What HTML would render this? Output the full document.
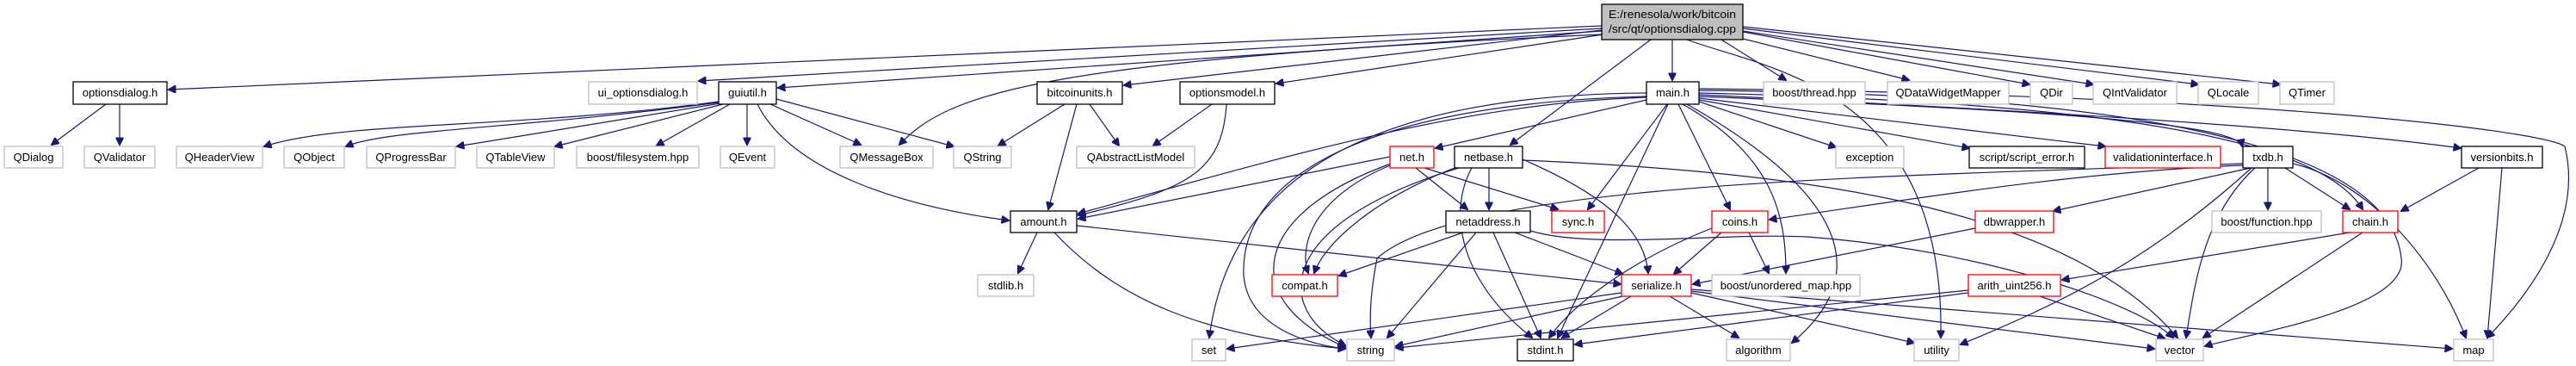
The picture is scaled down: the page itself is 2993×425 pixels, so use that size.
<!DOCTYPE html>
<html><head><meta charset="utf-8"><style>
html,body{margin:0;padding:0;background:#fff;}
svg{display:block;}
text{font-family:"Liberation Sans",sans-serif;font-size:13px;fill:#000;}
.g{fill:#fff;stroke:#bfbfbf;stroke-width:1.3}
.b{fill:#fff;stroke:#000;stroke-width:1.3}
.r{fill:#fff;stroke:#ff0000;stroke-width:1.3}
path{fill:none;stroke:#191970;stroke-width:1.2}
</style></head><body>
<svg width="2993" height="425" viewBox="0 0 2993 425" xmlns="http://www.w3.org/2000/svg">
<defs><marker id="a" viewBox="0 0 10 10" refX="9" refY="5" markerWidth="10" markerHeight="9" markerUnits="userSpaceOnUse" orient="auto"><path d="M0,0 L10,5 L0,10 z" style="fill:#191970;stroke:#191970"/></marker></defs>
<g marker-end="url(#a)">
<path d="M1861,30 L196,104"/>
<path d="M1861,33 L812,94"/>
<path d="M1861,36 L904,102"/>
<path d="M1861,40 C1200,70 1100,110 1045,168"/>
<path d="M1861,35 L1306,99"/>
<path d="M1863,40 L1483,97"/>
<path d="M1943,46 L1943,93"/>
<path d="M1918,46 L1755,168"/>
<path d="M2000,46 L2075,93"/>
<path d="M2025,45 L2218,93"/>
<path d="M2025,37 L2358,98"/>
<path d="M2025,36 L2432,98"/>
<path d="M2025,33 L2554,98"/>
<path d="M2025,31 L2649,98"/>
<path d="M1960,46 C2050,80 2260,100 2255,392"/>
<path d="M123,121 L60,168"/>
<path d="M139,121 L139,168"/>
<path d="M835,118 C600,150 400,140 307,170"/>
<path d="M835,119 C600,150 450,150 402,170"/>
<path d="M837,120 L531,170"/>
<path d="M840,121 L645,170"/>
<path d="M848,121 L763,169"/>
<path d="M868,121 L868,168"/>
<path d="M895,121 L1000,168"/>
<path d="M902,115 L1108,170"/>
<path d="M880,121 C920,200 1050,240 1172,256"/>
<path d="M1237,121 L1160,169"/>
<path d="M1266,121 L1300,169"/>
<path d="M1251,121 L1218,243"/>
<path d="M1408,121 L1340,169"/>
<path d="M1425,121 C1420,200 1380,220 1253,250"/>
<path d="M1913,113 C1700,120 1500,180 1253,248"/>
<path d="M1913,116 L1668,172"/>
<path d="M1913,108 C1600,110 1430,200 1405,392"/>
<path d="M1913,112 C1600,120 1440,200 1445,320 C1450,380 1520,400 1563,405"/>
<path d="M1937,121 L1845,243"/>
<path d="M1938,121 L1810,392"/>
<path d="M1950,121 L2010,243"/>
<path d="M1955,121 C2060,180 2075,250 2075,317"/>
<path d="M1960,121 C2100,200 2200,300 2082,398"/>
<path d="M1974,118 L2133,171"/>
<path d="M1974,116 L2288,172"/>
<path d="M1974,114 L2446,170"/>
<path d="M1974,112 C2300,125 2600,140 2605,170"/>
<path d="M1974,110 C2400,130 2700,150 2859,172"/>
<path d="M1974,108 C2500,120 2700,170 2745,243"/>
<path d="M1974,105 C2600,110 2780,200 2790,300 C2800,360 2600,390 2562,402"/>
<path d="M1974,103 C2600,110 2950,150 2980,170 C3000,250 2950,330 2890,392"/>
<path d="M1615,182 L1253,254"/>
<path d="M1620,190 C1520,230 1510,290 1520,317"/>
<path d="M1655,195 L1810,243"/>
<path d="M1645,195 L1705,243"/>
<path d="M1616,190 C1450,250 1440,350 1563,403"/>
<path d="M1690,195 C1600,230 1540,280 1527,317"/>
<path d="M1730,195 L1730,243"/>
<path d="M1769,185 C1850,220 1910,260 1915,317"/>
<path d="M1695,195 C1480,260 1480,360 1563,401"/>
<path d="M1710,195 C1680,250 1700,330 1780,392"/>
<path d="M1769,186 C2100,200 2400,240 2530,392"/>
<path d="M1205,270 L1183,317"/>
<path d="M1225,270 C1300,350 1400,390 1563,405"/>
<path d="M1251,262 L1883,330"/>
<path d="M1700,270 L1556,320"/>
<path d="M1760,270 L1885,318"/>
<path d="M1715,270 L1612,392"/>
<path d="M1735,270 L1790,392"/>
<path d="M1778,268 C1850,290 2000,270 2100,275 C2300,290 2480,350 2525,392"/>
<path d="M2000,270 L1945,318"/>
<path d="M1989,265 C1900,300 1830,350 1800,392"/>
<path d="M2032,270 L2055,317"/>
<path d="M1884,340 L1426,405"/>
<path d="M1890,343 L1622,402"/>
<path d="M1895,344 L1815,392"/>
<path d="M1940,344 L2020,392"/>
<path d="M1965,340 L2224,398"/>
<path d="M1965,338 L2503,405"/>
<path d="M1965,336 L2849,405"/>
<path d="M2606,192 C2400,200 2200,235 2056,255"/>
<path d="M2615,195 L2386,245"/>
<path d="M2635,195 L2635,243"/>
<path d="M2655,195 L2730,243"/>
<path d="M2620,195 C2560,250 2550,330 2540,392"/>
<path d="M2664,190 C2750,210 2830,300 2865,392"/>
<path d="M2616,195 C2500,300 2400,350 2278,400"/>
<path d="M2606,190 C2200,205 1700,210 1600,300 C1590,350 1592,380 1593,392"/>
<path d="M2295,265 L1967,330"/>
<path d="M2730,270 L2396,325"/>
<path d="M2745,270 L2560,392"/>
<path d="M2880,195 L2790,245"/>
<path d="M2907,195 L2890,392"/>
<path d="M2287,337 L1622,404"/>
<path d="M2287,340 L1830,400"/>
<path d="M2370,344 L2515,393"/>
</g>
<rect x="1861" y="5" width="164" height="41" style="fill:#bfbfbf;stroke:#000;stroke-width:1.3"/>
<text x="1869" y="21" textLength="148" lengthAdjust="spacingAndGlyphs">E:/renesola/work/bitcoin</text>
<text x="1869" y="38" textLength="148" lengthAdjust="spacingAndGlyphs">/src/qt/optionsdialog.cpp</text>
<g text-anchor="middle">
<!-- row1 -->
<rect class="b" x="85" y="95" width="109" height="26"/><text x="139.5" y="112">optionsdialog.h</text>
<rect class="g" x="684" y="95" width="126" height="26"/><text x="747" y="112">ui_optionsdialog.h</text>
<rect class="b" x="835" y="95" width="67" height="26"/><text x="868.5" y="112">guiutil.h</text>
<rect class="b" x="1205" y="95" width="99" height="26"/><text x="1254.5" y="112">bitcoinunits.h</text>
<rect class="b" x="1371" y="95" width="110" height="26"/><text x="1426" y="112">optionsmodel.h</text>
<rect class="b" x="1913" y="95" width="61" height="26"/><text x="1943.5" y="112">main.h</text>
<rect class="g" x="2049" y="95" width="118" height="26"/><text x="2108" y="112">boost/thread.hpp</text>
<rect class="g" x="2193" y="95" width="141" height="26"/><text x="2263.5" y="112">QDataWidgetMapper</text>
<rect class="g" x="2359" y="95" width="49" height="26"/><text x="2383.5" y="112">QDir</text>
<rect class="g" x="2432" y="95" width="97" height="26"/><text x="2480.5" y="112">QIntValidator</text>
<rect class="g" x="2554" y="95" width="70" height="26"/><text x="2589" y="112">QLocale</text>
<rect class="g" x="2649" y="95" width="63" height="26"/><text x="2680.5" y="112">QTimer</text>
<!-- row2 -->
<rect class="g" x="5" y="170" width="68" height="25"/><text x="39" y="187">QDialog</text>
<rect class="g" x="98" y="170" width="82" height="25"/><text x="139" y="187">QValidator</text>
<rect class="g" x="205" y="170" width="100" height="25"/><text x="255" y="187">QHeaderView</text>
<rect class="g" x="330" y="170" width="70" height="25"/><text x="365" y="187">QObject</text>
<rect class="g" x="426" y="170" width="103" height="25"/><text x="477.5" y="187">QProgressBar</text>
<rect class="g" x="554" y="170" width="90" height="25"/><text x="599" y="187">QTableView</text>
<rect class="g" x="670" y="170" width="142" height="25"/><text x="741" y="187">boost/filesystem.hpp</text>
<rect class="g" x="837" y="170" width="63" height="25"/><text x="868.5" y="187">QEvent</text>
<rect class="g" x="976" y="170" width="108" height="25"/><text x="1030" y="187">QMessageBox</text>
<rect class="g" x="1108" y="170" width="67" height="25"/><text x="1141.5" y="187">QString</text>
<rect class="g" x="1251" y="170" width="137" height="25"/><text x="1319.5" y="187">QAbstractListModel</text>
<rect class="r" x="1615" y="170" width="51" height="25"/><text x="1640.5" y="187">net.h</text>
<rect class="b" x="1690" y="170" width="79" height="25"/><text x="1729.5" y="187">netbase.h</text>
<rect class="g" x="2133" y="170" width="79" height="25"/><text x="2172.5" y="187">exception</text>
<rect class="b" x="2288" y="170" width="134" height="25"/><text x="2355" y="187">script/script_error.h</text>
<rect class="r" x="2446" y="170" width="134" height="25"/><text x="2513" y="187">validationinterface.h</text>
<rect class="b" x="2606" y="170" width="58" height="25"/><text x="2635" y="187">txdb.h</text>
<rect class="b" x="2860" y="170" width="94" height="25"/><text x="2907" y="187">versionbits.h</text>
<!-- row3 -->
<rect class="b" x="1174" y="245" width="77" height="25"/><text x="1212.5" y="262">amount.h</text>
<rect class="b" x="1680" y="245" width="98" height="25"/><text x="1729" y="262">netaddress.h</text>
<rect class="r" x="1803" y="245" width="61" height="25"/><text x="1833.5" y="262">sync.h</text>
<rect class="r" x="1989" y="245" width="65" height="25"/><text x="2021.5" y="262">coins.h</text>
<rect class="r" x="2295" y="245" width="91" height="25"/><text x="2340.5" y="262">dbwrapper.h</text>
<rect class="g" x="2570" y="245" width="127" height="25"/><text x="2633.5" y="262">boost/function.hpp</text>
<rect class="r" x="2722" y="245" width="64" height="25"/><text x="2754" y="262">chain.h</text>
<!-- row4 -->
<rect class="g" x="1136" y="319" width="65" height="25"/><text x="1168.5" y="336">stdlib.h</text>
<rect class="r" x="1478" y="319" width="76" height="25"/><text x="1516" y="336">compat.h</text>
<rect class="r" x="1884" y="319" width="81" height="25"/><text x="1924.5" y="336">serialize.h</text>
<rect class="g" x="1989" y="319" width="172" height="25"/><text x="2075" y="336">boost/unordered_map.hpp</text>
<rect class="r" x="2287" y="319" width="107" height="25"/><text x="2340.5" y="336">arith_uint256.h</text>
<!-- row5 -->
<rect class="g" x="1385" y="394" width="39" height="25"/><text x="1404.5" y="411">set</text>
<rect class="g" x="1565" y="394" width="55" height="25"/><text x="1592.5" y="411">string</text>
<rect class="b" x="1763" y="394" width="65" height="25"/><text x="1795.5" y="411">stdint.h</text>
<rect class="g" x="2006" y="394" width="74" height="25"/><text x="2043" y="411">algorithm</text>
<rect class="g" x="2224" y="394" width="52" height="25"/><text x="2250" y="411">utility</text>
<rect class="g" x="2505" y="394" width="55" height="25"/><text x="2532.5" y="411">vector</text>
<rect class="g" x="2851" y="394" width="46" height="25"/><text x="2874" y="411">map</text>
</g>
</svg>
</body></html>
